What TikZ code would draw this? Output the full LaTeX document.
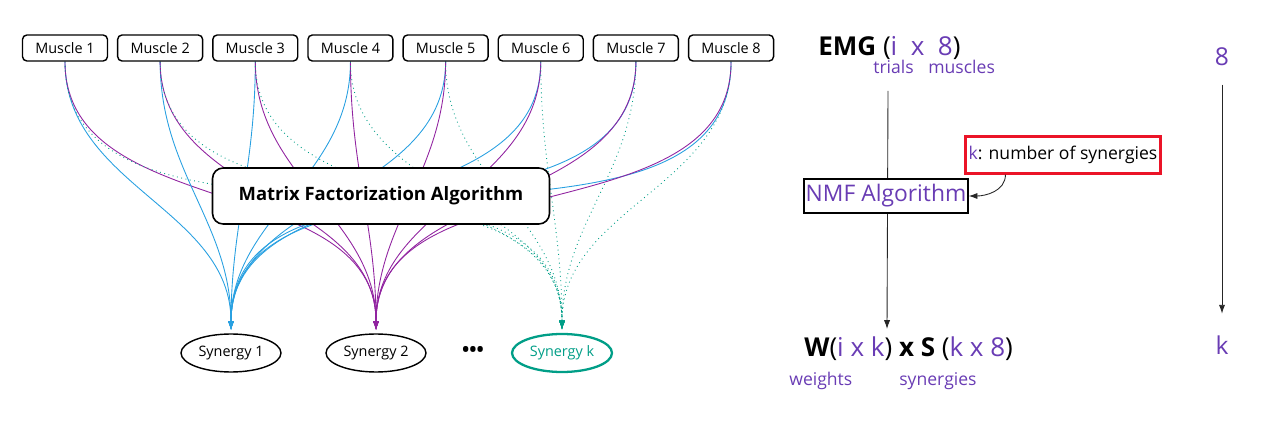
\documentclass[tikz,border=0pt]{standalone}
\usepackage{fontspec}
\setmainfont{Open Sans}
\usetikzlibrary{arrows.meta,positioning,shapes.geometric,backgrounds}

\definecolor{synblue}{RGB}{40,160,225}
\definecolor{synpurple}{RGB}{145,35,160}
\definecolor{synteal}{RGB}{0,158,135}
\definecolor{txtpurple}{RGB}{105,60,180}
\definecolor{kred}{RGB}{235,20,40}

\tikzset{
  muscle/.style={draw, rounded corners=2.5pt, line width=0.8pt, fill=white, minimum width=1.7cm, minimum height=0.52cm, inner sep=0pt, font=\fontsize{8.2}{10}\selectfont},
  synergy/.style={draw, ellipse, line width=0.8pt, fill=white, minimum width=2cm, minimum height=0.76cm, inner sep=0pt, font=\fontsize{8.2}{10}\selectfont},
  tosyn/.style={-{Latex[length=5pt,width=3.5pt]}, line width=0.5pt, shorten >=2pt},
  txt/.style={text=txtpurple, font=\fontsize{10}{12}\selectfont, inner sep=0pt},
  txtbig/.style={text=txtpurple, font=\fontsize{14}{16}\selectfont},
  thinarrow/.style={-{Latex[length=5pt,width=3.5pt]}, line width=0.5pt, black!85},
}

\begin{document}
\begin{tikzpicture}[x=0.02cm, y=-0.02cm]
    \useasboundingbox (0,0) rectangle (1274,435);
    % muscles and synergies
    \foreach \i in {1,...,8}
        \node (m\i) [muscle] at ({65+95.15*(\i-1)}, 48) {Muscle \i};
    \node (mfa) [draw, rounded corners=6pt, line width=0.9pt, fill=white, minimum width=6.74cm, minimum height=1.12cm, font=\fontsize{10.5}{12}\selectfont\bfseries] at (381,196) {Matrix Factorization Algorithm};
    \node (s1) [synergy] at (231,353) {Synergy 1};
    \node (s2) [synergy] at (376,353) {Synergy 2};
    \node (dots) [font=\fontsize{11}{12}\selectfont\bfseries] at (473,351) {•••};
    \node (sk) [synergy, draw=synteal, line width=1.3pt, text=synteal] at (562,353) {Synergy k};

    % EMG side
    \node (emg) [anchor=base west, font=\fontsize{14.8}{17}\selectfont, inner sep=0pt] at (818,56) {\textbf{EMG} (\textcolor{txtpurple}{i\ \ x\ \ 8})};
    \node (trials) [txt, anchor=base west] at (873,74) {trials};
    \node (musc) [txt, anchor=base west] at (928,74) {muscles};
    \node (nmf) [draw, line width=0.8pt, fill=white, minimum width=3.28cm, minimum height=0.68cm, inner sep=0pt, text=txtpurple, font=\fontsize{13}{15}\selectfont] at (886,196) {NMF Algorithm};
    \node (kbox) [draw=kred, line width=1.2pt, minimum width=3.9cm, minimum height=0.74cm, inner sep=0pt, font=\fontsize{10}{12}\selectfont] at (1063,155) {\textcolor{txtpurple}{k}: number of synergies};
    \node (wsx) [anchor=base west, font=\fontsize{14.8}{17}\selectfont, inner sep=0pt] at (804,357) {\textbf{W}(\textcolor{txtpurple}{i x k}) \textbf{x S} (\textcolor{txtpurple}{k x 8})};
    \node (wts) [txt, anchor=base west] at (789,385) {weights};
    \node (syns) [txt, anchor=base west] at (899,385) {synergies};
    \node (eight) [txtbig] at (1222,57) {8};
    \node (kk) [txtbig] at (1222,345) {k};
    \coordinate (emgdown) at (888,91);
    \coordinate (wtop) at (887,329);

    \begin{scope}[on background layer]
        \foreach \i in {1,...,8} {
            \draw[tosyn, synblue] (m\i.south) to[out=-90, in=90] (s1.north);
            \draw[tosyn, synpurple] (m\i.south) to[out=-90, in=90] (s2.north);
            \draw[tosyn, synteal, dotted] (m\i.south) to[out=-90, in=90] (sk.north);
        }
        \draw[thinarrow] (emgdown) -- (wtop);
    \end{scope}

    \draw[thinarrow, shorten <=7pt, shorten >=9pt] (eight) -- (kk);
    \draw[thinarrow] (kbox.south west) ++(41,0) to[out=-90, in=0] (nmf.east);
\end{tikzpicture}
\end{document}
